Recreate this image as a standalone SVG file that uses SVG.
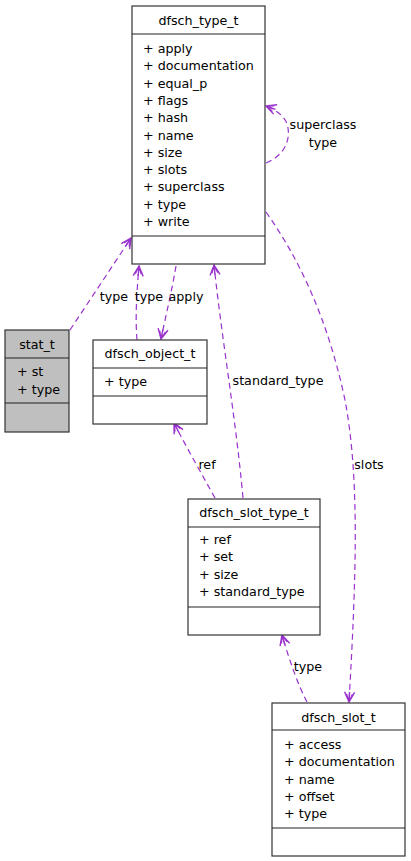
<svg xmlns="http://www.w3.org/2000/svg" width="411" height="861" viewBox="0 0 411 861">
<style>
.box{fill:#fff;stroke:#333;stroke-width:1.2}
.gray{fill:#bfbfbf}
.sep{stroke:#222;stroke-width:1.2}
text{font-family:"DejaVu Sans","Liberation Sans",sans-serif;font-size:12.7px;fill:#000}
.c{text-anchor:middle}
.edge{fill:none;stroke:#9a32cd;stroke-width:1.2;stroke-dasharray:6,4;marker-end:url(#arr)}
</style>
<defs>
<marker id="arr" markerWidth="12" markerHeight="12" viewBox="0 0 12 12" refX="11" refY="6" orient="auto" markerUnits="userSpaceOnUse">
<path d="M1,1 L11,6 L1,11 M11,6 L1,6 M11,6 L3,3 M11,6 L3,9" fill="none" stroke="#9a32cd" stroke-width="1.4"/>
</marker>
</defs>
<g id="edges">
<path class="edge" d="M70,330 L131,238"/>
<text class="c" x="114" y="301">type</text>
<path class="edge" d="M137,340 C135,315 137,290 139,266"/>
<text class="c" x="149" y="301">type</text>
<path class="edge" d="M176,266 C172,290 166,315 161,339"/>
<text class="c" x="186" y="301">apply</text>
<path class="edge" d="M243,498 C236,420 222,340 214,265"/>
<text class="c" x="278" y="385">standard_type</text>
<path class="edge" d="M215,498 C205,480 188,450 174,423"/>
<text class="c" x="207" y="469">ref</text>
<path class="edge" d="M266,212 C300,260 328,320 345,400 C360,480 356,580 349,702"/>
<text class="c" x="369" y="469">slots</text>
<path class="edge" d="M307,702 C298,685 290,662 282,635"/>
<text class="c" x="308" y="671">type</text>
<path class="edge" d="M266,163 C285,155 290,140 288,128 C287,118 277,110 266,106"/>
<text class="c" x="323" y="129">superclass</text>
<text class="c" x="323" y="147">type</text>
</g>
<g id="dfsch_type_t">
<rect class="box" x="132" y="6" width="133" height="258"/>
<line class="sep" x1="132" y1="34" x2="265" y2="34"/>
<line class="sep" x1="132" y1="236" x2="265" y2="236"/>
<text class="c" x="198.5" y="25">dfsch_type_t</text>
<text x="143" y="53">+ apply</text>
<text x="143" y="70.3">+ documentation</text>
<text x="143" y="87.6">+ equal_p</text>
<text x="143" y="104.9">+ flags</text>
<text x="143" y="122.2">+ hash</text>
<text x="143" y="139.5">+ name</text>
<text x="143" y="156.8">+ size</text>
<text x="143" y="174.1">+ slots</text>
<text x="143" y="191.4">+ superclass</text>
<text x="143" y="208.7">+ type</text>
<text x="143" y="226">+ write</text>
</g>
<g id="stat_t">
<rect class="box gray" x="5" y="330" width="64" height="102"/>
<line class="sep" x1="5" y1="358" x2="69" y2="358"/>
<line class="sep" x1="5" y1="403" x2="69" y2="403"/>
<text class="c" x="37" y="349">stat_t</text>
<text x="17" y="376">+ st</text>
<text x="17" y="393.5">+ type</text>
</g>
<g id="dfsch_object_t">
<rect class="box" x="93" y="340" width="114" height="84"/>
<line class="sep" x1="93" y1="368" x2="207" y2="368"/>
<line class="sep" x1="93" y1="396" x2="207" y2="396"/>
<text class="c" x="150" y="358">dfsch_object_t</text>
<text x="104" y="386">+ type</text>
</g>
<g id="dfsch_slot_type_t">
<rect class="box" x="188" y="499" width="132" height="136"/>
<line class="sep" x1="188" y1="527" x2="320" y2="527"/>
<line class="sep" x1="188" y1="607" x2="320" y2="607"/>
<text class="c" x="254" y="517">dfsch_slot_type_t</text>
<text x="199" y="543.5">+ ref</text>
<text x="199" y="561">+ set</text>
<text x="199" y="578.5">+ size</text>
<text x="199" y="596">+ standard_type</text>
</g>
<g id="dfsch_slot_t">
<rect class="box" x="272" y="703" width="133" height="153"/>
<line class="sep" x1="272" y1="730" x2="405" y2="730"/>
<line class="sep" x1="272" y1="828" x2="405" y2="828"/>
<text class="c" x="338.5" y="721.5">dfsch_slot_t</text>
<text x="284" y="749">+ access</text>
<text x="284" y="766.3">+ documentation</text>
<text x="284" y="783.6">+ name</text>
<text x="284" y="800.9">+ offset</text>
<text x="284" y="818.2">+ type</text>
</g>
</svg>
